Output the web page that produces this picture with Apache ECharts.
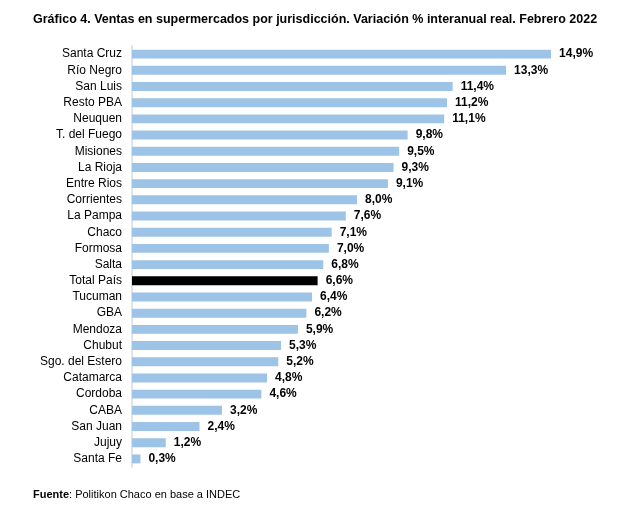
<!DOCTYPE html>
<html>
<head>
<meta charset="utf-8">
<script src="https://cdn.jsdelivr.net/npm/echarts@6/dist/echarts.min.js"></script>
<style>
  html, body { margin: 0; padding: 0; background: #fff; }
  #chart { width: 636px; height: 514px; }
</style>
</head>
<body>
<div id="chart"></div>
<script>
var categories = ['Santa Cruz', 'Río Negro', 'San Luis', 'Resto PBA', 'Neuquen', 'T. del Fuego', 'Misiones',
    'La Rioja', 'Entre Rios', 'Corrientes', 'La Pampa', 'Chaco', 'Formosa', 'Salta', 'Total País', 'Tucuman',
    'GBA', 'Mendoza', 'Chubut', 'Sgo. del Estero', 'Catamarca', 'Cordoba', 'CABA', 'San Juan', 'Jujuy', 'Santa Fe'];
var values = [14.9, 13.3, 11.4, 11.2, 11.1, 9.8, 9.5, 9.3, 9.1, 8.0, 7.6, 7.1, 7.0, 6.8, 6.6, 6.4,
    6.2, 5.9, 5.3, 5.2, 4.8, 4.6, 3.2, 2.4, 1.2, 0.3];
var highlight = 'Total País';

var myChart = echarts.init(document.getElementById('chart'));

var option = {
    backgroundColor: '#fff',
    animation: false,
    textStyle: { fontFamily: 'Liberation Sans, Arial, sans-serif' },
    title: [{
        text: 'Gráfico 4. Ventas en supermercados por jurisdicción. Variación % interanual real. Febrero 2022',
        left: 28,
        top: 8,
        textStyle: { fontSize: 12.5, fontWeight: 'bold', color: '#000' }
    }, {
        text: '{b|Fuente}: Politikon Chaco en base a INDEC',
        left: 28,
        top: 484,
        textStyle: {
            fontSize: 11, fontWeight: 'normal', color: '#000',
            rich: { b: { fontSize: 11, fontWeight: 'bold', color: '#000' } }
        }
    }],
    grid: { left: 132, top: 46, width: 450, height: 421, containLabel: false },
    xAxis: {
        type: 'value',
        min: 0,
        max: 16,
        show: false
    },
    yAxis: {
        type: 'category',
        inverse: true,
        data: categories,
        axisLine: { show: true, lineStyle: { color: '#d9d9d9', width: 1.5 } },
        axisTick: { show: false },
        axisLabel: { fontSize: 12, color: '#000', margin: 10 }
    },
    series: [{
        type: 'bar',
        barCategoryGap: '45%',
        data: values.map(function (v, i) {
            return {
                value: v,
                itemStyle: { color: categories[i] === highlight ? '#000' : '#9dc3e6' }
            };
        }),
        label: {
            show: true,
            position: 'right',
            distance: 8,
            fontSize: 12,
            fontWeight: 'bold',
            color: '#000',
            formatter: function (p) { return p.value.toFixed(1).replace('.', ',') + '%'; }
        }
    }]
};

myChart.setOption(option);
</script>
</body>
</html>
